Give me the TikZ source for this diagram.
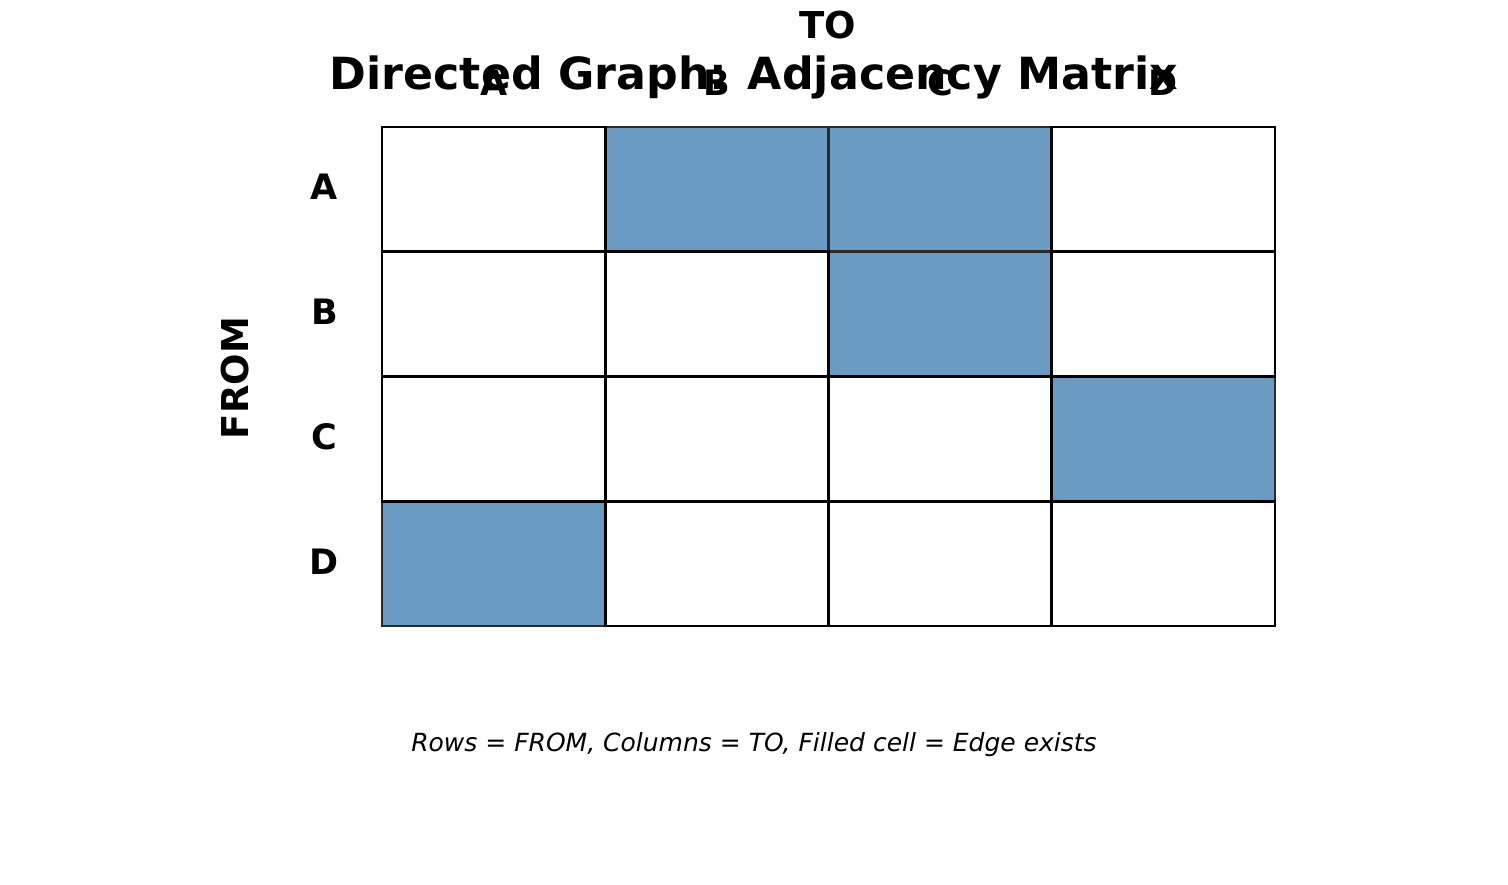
\documentclass[tikz,border=0pt]{standalone}
\usepackage{fontspec}
\setmainfont{DejaVu Sans}
\definecolor{edgefill}{HTML}{6B9BC3}
\definecolor{edgeline}{HTML}{2A2A2A}
\tikzset{
    cell/.style={rectangle, draw=black, fill=white, line width=2.6pt, inner sep=0pt,
        minimum width=223.25pt, minimum height=124.75pt},
    filledcell/.style={cell, draw=edgeline, fill=edgefill},
    headlab/.style={anchor=base, inner sep=0pt, font=\fontsize{35}{40}\bfseries\selectfont},
    axislab/.style={anchor=base, inner sep=0pt, font=\fontsize{37}{44}\bfseries\selectfont},
}
\begin{document}
\begin{tikzpicture}[x=1pt, y=-1pt]
    \useasboundingbox (0,0) rectangle (1508,885);

    % filled cells first, plain cells drawn over them
    \foreach \r/\c in {1/2, 1/3, 2/3, 3/4, 4/1}
        \node (fill-\r-\c) [filledcell] at ({382+223.25*(\c-0.5)}, {127+124.75*(\r-0.5)}) {};
    \foreach \r/\c in {1/1, 1/4, 2/1, 2/2, 2/4, 3/1, 3/2, 3/3, 4/2, 4/3, 4/4}
        \node (cell-\r-\c) [cell] at ({382+223.25*(\c-0.5)}, {127+124.75*(\r-0.5)}) {};

    \node (title) [anchor=base, inner sep=0pt, font=\fontsize{44.3}{52}\bfseries\selectfont] at (754, 90) {Directed Graph: Adjacency Matrix};

    % column and row labels
    \foreach \name [count=\i] in {A, B, C, D} {
        \node (col-\name) [headlab] at ({382+223.25*(\i-0.5)}, 96) {\name};
        \node (row-\name) [headlab] at (324.5, {127+124.75*(\i-0.5)+10.5}) {\name};
    }

    \node (to) [axislab] at (828, 39) {TO};
    \node (from) [axislab, rotate=90] at (248, 378) {FROM};

    \node (note) [anchor=base, inner sep=0pt, font=\fontsize{25}{30}\itshape\selectfont] at (754, 751) {Rows = FROM, Columns = TO, Filled cell = Edge exists};
\end{tikzpicture}
\end{document}
